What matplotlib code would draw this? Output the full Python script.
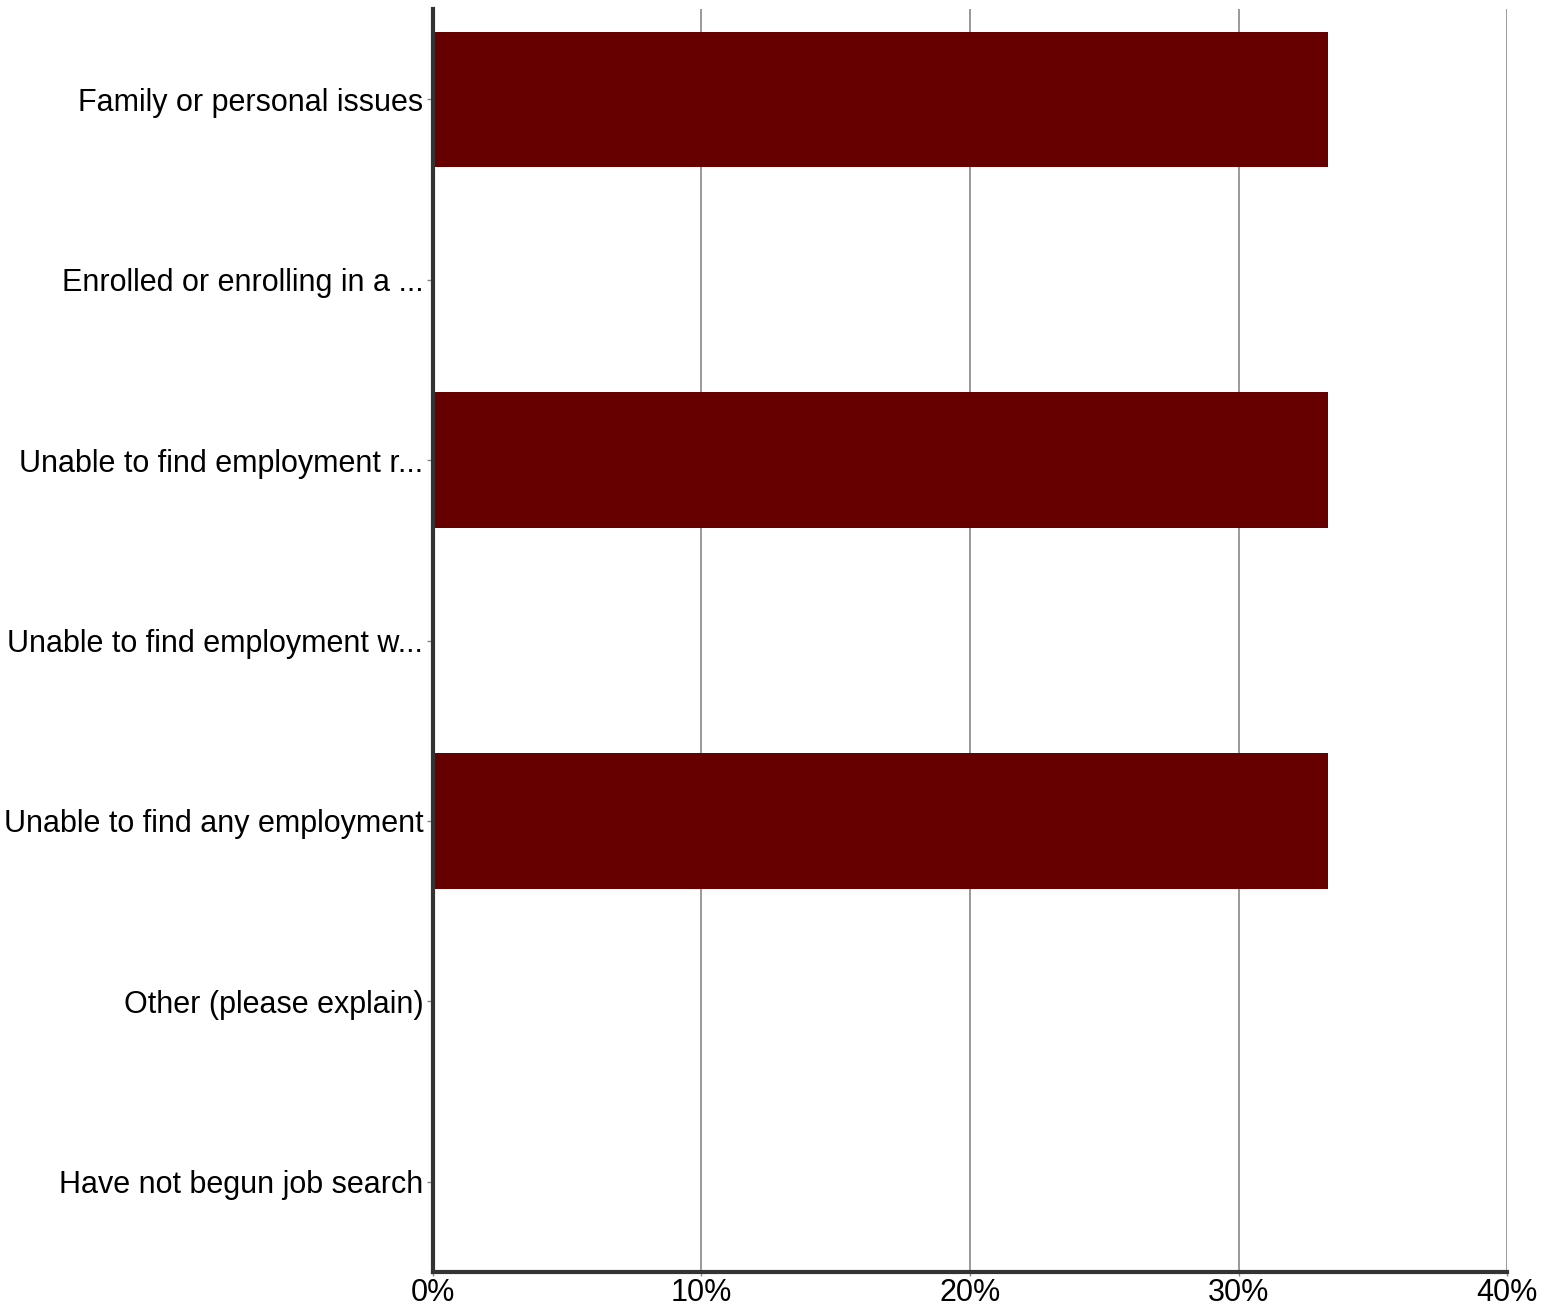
import matplotlib
matplotlib.use("Agg")
import matplotlib.pyplot as plt
from matplotlib.ticker import FuncFormatter

plt.rcParams["font.family"] = ["Liberation Sans", "DejaVu Sans"]

# 数据（自上而下）
categories = [
    "Family or personal issues",
    "Enrolled or enrolling in a ...",
    "Unable to find employment r...",
    "Unable to find employment w...",
    "Unable to find any employment",
    "Other (please explain)",
    "Have not begun job search",
]
percents = [33.33, 0, 33.33, 0, 33.33, 0, 0]
x_ticks = [0, 10, 20, 30, 40]

bar_color = "#660000"
spine_color = "#333333"

fig = plt.figure(figsize=(15.53, 13.12), dpi=100)
ax = fig.add_axes([0.2788, 0.0305, 0.6916, 0.9626])

ypos = list(range(len(categories)))
ax.barh(ypos, percents, height=0.75, color=bar_color, zorder=3)

ax.set_ylim(len(categories) - 0.5, -0.5)
ax.set_xlim(0, 40)
ax.set_xticks(x_ticks)
ax.xaxis.set_major_formatter(FuncFormatter(lambda v, _: f"{v:g}%"))
ax.set_yticks(ypos)
ax.set_yticklabels(categories)

ax.grid(axis="x", color="#888888", linewidth=1.2, zorder=0)
ax.grid(axis="y", visible=False)

for side in ("top", "right"):
    ax.spines[side].set_visible(False)
for side in ("left", "bottom"):
    ax.spines[side].set_color(spine_color)
    ax.spines[side].set_linewidth(3)
    ax.spines[side].set_zorder(4)

ax.tick_params(axis="both", labelsize=22, length=4, width=1, color="#888888")
ax.tick_params(axis="y", pad=3)
ax.tick_params(axis="x", length=3, pad=1)

fig.savefig("out.png", dpi=100)
